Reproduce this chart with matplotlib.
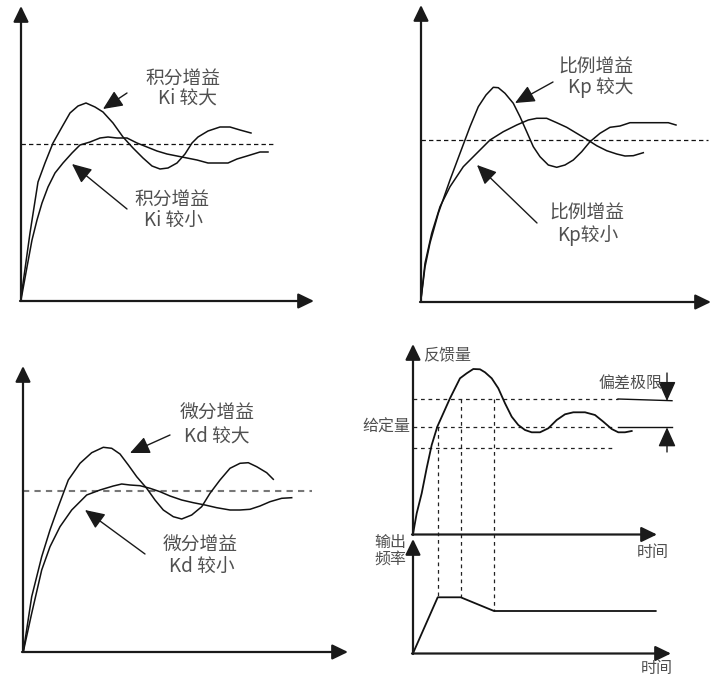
import matplotlib
matplotlib.use("Agg")
import matplotlib.pyplot as plt

plt.rcParams['font.family'] = ['Noto Sans CJK SC', 'DejaVu Sans']

# ---------------- data (image-pixel coordinates) -------------
# Panel 1: integral gain
ki_large_x = [20.7, 30, 38, 45, 53, 62, 70, 78, 86, 95, 103, 113, 123, 133, 143, 152, 160,
              168, 177, 185, 192, 198, 208, 220, 230, 240, 251]
ki_large_y = [300, 233, 182, 163, 143, 127, 113, 106, 103, 107, 112, 123, 137, 148, 158, 166,
              169, 168, 163, 154, 143, 137, 131, 127, 127, 130, 133]
ki_small_x = [21, 27, 32, 37, 42, 48, 55, 63, 72, 80, 90, 100, 108, 117, 127, 137, 147, 157,
              167, 177, 187, 197, 208, 217, 228, 237, 247, 260, 268]
ki_small_y = [300, 267, 240, 220, 203, 187, 173, 163, 153, 145, 142, 138, 137, 138, 138, 143,
              147, 151, 154, 156, 158, 160, 163, 163, 163, 159, 156, 152, 152]
# Panel 2: proportional gain
kp_large_x = [420.7, 425, 430, 438.3, 450, 460, 470, 478.3, 486, 493.3, 498.3, 505, 513.3,
              520, 526.7, 533.3, 540, 548.3, 556.7, 565, 573.3, 581.7, 590, 600, 610, 620,
              630, 643.3, 656.7, 668.3, 676]
kp_large_y = [301.7, 267, 243, 213.3, 180, 153.3, 126.7, 106.7, 95, 87.3, 87.7, 93.3, 103.3,
              116.7, 131.7, 146.7, 156.7, 165, 167.3, 165, 160, 151.7, 141.7, 133.3, 127.3,
              126, 122.7, 122.7, 122.7, 122.7, 125]
kp_small_x = [420.7, 425, 431.7, 440, 450, 463.3, 476.7, 490, 503.3, 516.7, 528.3, 536.7,
              546.7, 556.7, 566.7, 576.7, 586.7, 596.7, 606.7, 616.7, 625, 633.3, 643.3]
kp_small_y = [301.7, 263.3, 233.3, 206.7, 186.7, 166.7, 153.3, 140, 131.7, 125, 120, 118.3,
              118.3, 122.7, 127.3, 133.3, 139.3, 145.7, 150.7, 154, 156, 155.7, 152.7]
# Panel 3: derivative gain
kd_large_x = [23.3, 31.7, 41.7, 50, 58.3, 68.3, 80, 91.7, 103.3, 111.7, 120, 128.3, 136.7,
              146.7, 155, 163.3, 173.3, 181.7, 191.7, 201.7, 210, 220, 230, 240, 248.3,
              256.7, 266.7, 273.3]
kd_large_y = [651.7, 596.7, 556.7, 530, 506.7, 480, 463.3, 452.7, 447.3, 448.3, 454, 465,
              476.7, 488.3, 500, 510, 516.7, 519, 515, 506.7, 493.3, 480, 468.3, 463.3,
              462.7, 466.7, 472.7, 479.3]
kd_small_x = [23.3, 31.7, 41.7, 50, 60, 71.7, 86.7, 100, 113.3, 121.7, 130, 140, 150, 160,
              170, 181.7, 193.3, 205, 216.7, 230, 240, 250, 260, 270, 281.7, 291.7]
kd_small_y = [651.7, 613.3, 570, 546.7, 526.7, 510, 495, 490, 486, 484, 485, 485.7, 488.3,
              491.7, 496, 500, 502.7, 505, 507.7, 510, 510, 509.3, 506, 501.7, 498.3, 497.7]
# Panel 4: feedback and output frequency
fb_x = [413, 416.7, 421.7, 426.7, 431.7, 437.3, 443.3, 450, 455, 460, 466.7, 473.3, 480, 485,
        491.7, 498.3, 505, 511.7, 518.3, 525, 531.7, 540, 548.3, 556.7, 565, 573.3, 585, 595,
        603.3, 611.7, 618.3, 625, 631.7]
fb_y = [534, 513.3, 493.3, 468, 445, 426.7, 413.3, 398.3, 388.3, 378.3, 373.3, 369, 369.3,
        372.3, 378.3, 388.3, 403.3, 416.7, 425, 430, 432.3, 432.3, 428.3, 420, 414.3, 412.3,
        412.3, 415, 421.7, 429, 432.3, 432.3, 431]
freq_x = [413, 437.7, 460.7, 494, 655.7]
freq_y = [653.3, 597.3, 597.3, 611, 611]
fb_levels_y = [399, 427.3, 447.5]          # upper limit, set point, lower limit
fb_levels_xend = [618, 615, 615]
vlines_x = [437.7, 460.7, 494]
vlines_ytop = [427.3, 399, 399]
vlines_ybot = [597.3, 597.3, 611]

labels_p1 = [("积分增益", 183, 78), ("Ki 较大", 187, 98), ("积分增益", 172, 199), ("Ki 较小", 174, 220)]
labels_p2 = [("比例增益", 596, 67), ("Kp 较大", 601, 88), ("比例增益", 587, 213), ("Kp较小", 588, 235)]
labels_p3 = [("微分增益", 217, 413), ("Kd 较大", 217, 436), ("微分增益", 200, 545), ("Kd 较小", 202, 566)]

# ---------------- drawing ----------------
fig = plt.figure(figsize=(7.12, 6.78), dpi=100)
ax = fig.add_axes([0, 0, 1, 1])
ax.set_xlim(0, 712)
ax.set_ylim(678, 0)
ax.axis('off')

AX_COL = '#1a1a1a'
TXT_COL = '#505050'


def axis_arrow(x0, y0, x1, y1):
    ax.annotate('', xy=(x1, y1), xytext=(x0, y0),
                arrowprops=dict(arrowstyle='-|>,head_length=9.5,head_width=4.6',
                                mutation_scale=1, lw=1.6, color=AX_COL,
                                shrinkA=0, shrinkB=0))


def label_arrow(x0, y0, x1, y1):
    ax.annotate('', xy=(x1, y1), xytext=(x0, y0),
                arrowprops=dict(arrowstyle='-|>,head_length=12,head_width=5.4',
                                mutation_scale=1, lw=1.0, color=AX_COL,
                                shrinkA=0, shrinkB=0))


# Panel 1
axis_arrow(21, 301, 21, 6)
axis_arrow(20, 301, 314, 301)
ax.plot([21, 273], [144, 144], color='#111', lw=0.9, dashes=(3.5, 2.5))
ax.plot(ki_large_x, ki_large_y, color='#111', lw=1.1)
ax.plot(ki_small_x, ki_small_y, color='#111', lw=1.1)
label_arrow(127, 93, 103, 109)
label_arrow(127, 209, 72, 164)

# Panel 2
axis_arrow(421, 302, 421, 5)
axis_arrow(420, 302, 711, 302)
ax.plot([421, 708], [140, 140], color='#111', lw=0.9, dashes=(3.5, 2.5))
ax.plot(kp_large_x, kp_large_y, color='#111', lw=1.1)
ax.plot(kp_small_x, kp_small_y, color='#111', lw=1.1)
label_arrow(553, 82, 515, 103)
label_arrow(537, 223, 477, 165)

# Panel 3
axis_arrow(23, 652, 23, 366)
axis_arrow(22, 652, 348, 652)
ax.plot([23, 312], [491, 491], color='#777', lw=1.5, dashes=(3, 2.5))
ax.plot(kd_large_x, kd_large_y, color='#111', lw=1.1)
ax.plot(kd_small_x, kd_small_y, color='#111', lw=1.1)
label_arrow(170, 435, 130, 453)
label_arrow(145, 554, 85, 510)

# Panel 4 upper
axis_arrow(413, 535, 413, 344)
axis_arrow(412, 534.5, 657, 534.5)
for yl, xe in zip(fb_levels_y, fb_levels_xend):
    ax.plot([413, xe], [yl, yl], color='#222', lw=0.9, dashes=(3, 3))
for xv, yt, yb in zip(vlines_x, vlines_ytop, vlines_ybot):
    ax.plot([xv, xv], [yt, yb], color='#222', lw=0.9, dashes=(3, 3))
ax.plot(fb_x, fb_y, color='#111', lw=1.3)
ax.plot([618, 672], [399, 400.7], color='#111', lw=1.0)
ax.plot([618, 672], [427.3, 427.3], color='#111', lw=1.0)
label_arrow(667, 373, 667, 401)
label_arrow(667, 452, 667, 427.3)

# Panel 4 lower
axis_arrow(413, 654, 413, 539)
axis_arrow(412, 653.5, 671, 653.5)
ax.plot(freq_x, freq_y, color='#111', lw=1.3)

for lab in (labels_p1, labels_p2, labels_p3):
    for t, x, y in lab:
        ax.text(x, y, t, ha='center', va='center', fontsize=13.5, color=TXT_COL,
                fontweight='light')

small = dict(fontsize=11.5, color=TXT_COL, va='center', fontweight='light')
ax.text(423, 355, "反馈量", ha='left', **small)
ax.text(410, 427, "给定量", ha='right', **small)
ax.text(663, 383, "偏差极限", ha='right', **small)
ax.text(390, 542, "输出", ha='center', **small)
ax.text(390, 559, "频率", ha='center', **small)
ax.text(653, 552, "时间", ha='center', **small)
ax.text(657, 668, "时间", ha='center', **small)

fig.savefig("out.png", dpi=100)
